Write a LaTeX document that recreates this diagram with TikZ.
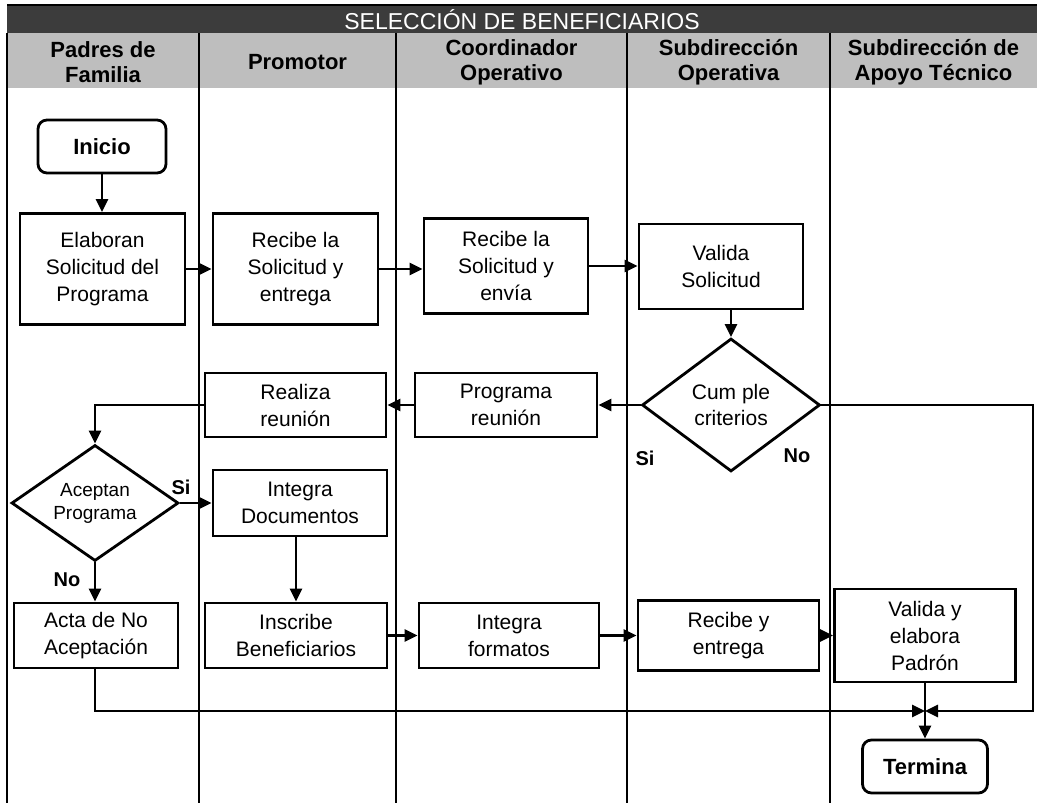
\documentclass[tikz,border=0pt]{standalone}
\usepackage{fontspec}
\setmainfont{Liberation Sans}
\usetikzlibrary{calc,shapes.geometric,arrows.meta}
\definecolor{titulo}{HTML}{3C3C3C}
\definecolor{cabecera}{HTML}{BEBEBE}

\begin{document}
\begin{tikzpicture}[x=1pt,y=-1pt,>={Triangle[length=13pt,width=12pt]},
		caja/.style={draw,line width=2.8pt,align=center,inner sep=0pt,font=\fontsize{21}{27}\selectfont},
		terminal/.style={caja,rounded corners=9pt,font=\fontsize{22}{27}\selectfont\bfseries},
		rombo/.style={draw,diamond,line width=2.8pt,align=center,inner sep=0pt,aspect=1.4,font=\fontsize{21}{26}\selectfont},
		flecha/.style={->,line width=2.8pt},
		carril/.style={line width=1.5pt},
		encabezado/.style={align=center,font=\fontsize{22}{25}\selectfont\bfseries},
		resp/.style={font=\fontsize{20}{24}\selectfont\bfseries}] %carriles del proceso
			\useasboundingbox (0,0) rectangle (1042,803);
			\fill[titulo] (7,5) rectangle (1037,33);
			\fill[cabecera] (7,33) rectangle (1037,88);
			\draw[carril] (7,5) -- (1037,5);
			\node[font=\fontsize{23}{25}\selectfont,text=white] (tit) at (522,20) {SELECCIÓN DE BENEFICIARIOS};
			\foreach \x in {7,199,396,627,830} \draw[carril] (\x,33) -- (\x,803);

			\node[encabezado] (padres) at (103,62) {Padres de\\Familia};
			\node[encabezado] (promotor) at (297.5,62) {Promotor};
			\node[encabezado] (coord) at (511.5,62) {Coordinador\\Operativo};
			\node[encabezado] (subop) at (728.5,62) {Subdirección\\Operativa};
			\node[encabezado] (subap) at (933.5,62) {Subdirección de\\Apoyo Técnico};

			\node[terminal,minimum width=128pt,minimum height=53pt] (inicio) at (102,146.5) {Inicio};
			\node[caja,minimum width=165pt,minimum height=111pt] (elab) at (102.5,269) {Elaboran\\Solicitud del\\Programa};
			\node[caja,minimum width=165pt,minimum height=111pt] (rec1) at (295.5,269) {Recibe la\\Solicitud y\\entrega};
			\node[caja,minimum width=164pt,minimum height=95pt] (rec2) at (506,266) {Recibe la\\Solicitud y\\envía};
			\node[caja,minimum width=164pt,minimum height=85pt] (valida) at (721,266.5) {Valida\\Solicitud};
			\node[rombo,minimum width=178pt,minimum height=133pt] (cumple) at (731,405) {Cum ple\\criterios};
			\node[caja,minimum width=182pt,minimum height=64pt] (prog) at (506,405) {Programa\\reunión};
			\node[caja,minimum width=181pt,minimum height=64pt] (real) at (295.5,405) {Realiza\\reunión};
			\node[rombo,minimum width=167pt,minimum height=116pt,font=\fontsize{19}{23}\selectfont] (acept) at (95,503) {Aceptan\\Programa};
			\node[caja,minimum width=174pt,minimum height=66pt] (idoc) at (300,503) {Integra\\Documentos};
			\node[caja,minimum width=164pt,minimum height=65pt] (acta) at (96,635.5) {Acta de No\\Aceptación};
			\node[caja,minimum width=182pt,minimum height=65pt] (insc) at (296,635.5) {Inscribe\\Beneficiarios};
			\node[caja,minimum width=180pt,minimum height=65pt] (iform) at (509,635.5) {Integra\\formatos};
			\node[caja,minimum width=181pt,minimum height=70pt] (recent) at (728.5,635.5) {Recibe y\\entrega};
			\node[caja,minimum width=181pt,minimum height=93pt] (padron) at (925,635.5) {Valida y\\elabora\\Padrón};
			\node[terminal,minimum width=125pt,minimum height=53pt] (termina) at (925,766.5) {Termina};

			\coordinate (vuelta) at (1033,405);
			\coordinate (union) at (925,711);

			\draw[flecha] (inicio.south) -- (inicio.south |- elab.north);
			\draw[flecha] (elab) -- (rec1);
			\draw[flecha] (rec1.east) -- (rec1.east -| rec2.west);
			\draw[flecha] (rec2.east) -- (rec2.east -| valida.west);
			\draw[flecha] (cumple.north |- valida.south) -- (cumple.north);
			\draw[flecha] (cumple.west) -- (prog.east);
			\draw[flecha] (prog) -- (real);
			\draw[flecha] (real.west) -| (acept.north);
			\draw[flecha] (acept.east) -- (acept.east -| idoc.west);
			\draw[flecha] (acept.south) -- (acta.north -| acept.south);
			\draw[flecha] (insc.north |- idoc.south) -- (insc.north);
			\draw[flecha] (insc) -- (iform);
			\draw[flecha] (iform) -- (recent);
			\draw[flecha] (recent) -- (padron);
			\draw[flecha] (padron) -- (termina);
			\draw[flecha] (cumple.east) -- (vuelta) |- (union);
			\draw[flecha] (acta.south -| acept.south) |- (union);

			\node[resp] (si1) at (645,458) {Si};
			\node[resp] (no1) at (797,456) {No};
			\node[resp] (si2) at (181,487) {Si};
			\node[resp] (no2) at (67,580) {No};
		\end{tikzpicture}
\end{document}
